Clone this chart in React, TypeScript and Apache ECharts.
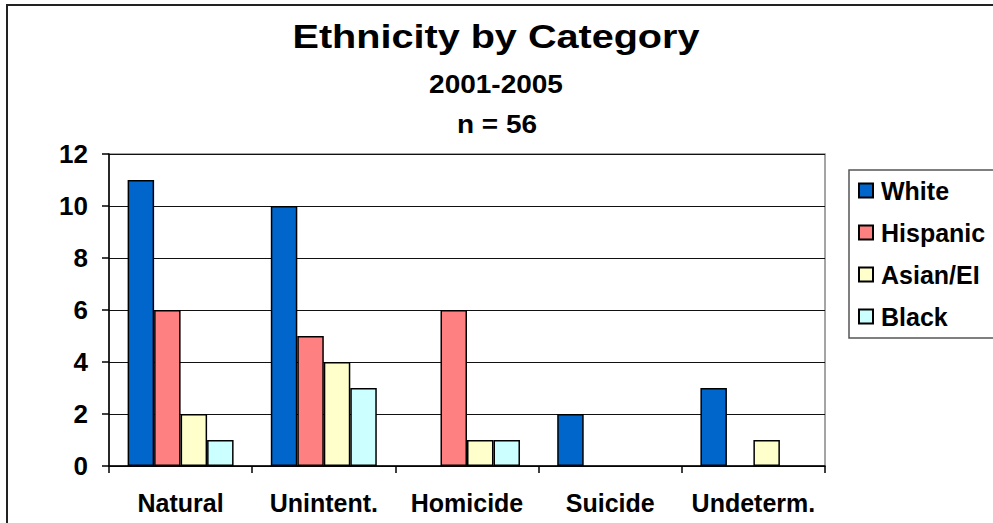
import React, { useEffect, useRef } from "react";
import * as echarts from "echarts";

const categories = ["Natural", "Unintent.", "Homicide", "Suicide", "Undeterm."];
const white = [11, 10, null, 2, 3];
const hispanic = [6, 5, 6, null, null];
const asianEI = [2, 4, 1, null, 1];
const black = [1, 3, 1, null, null];
const yTicks = { min: 0, max: 12, interval: 2 };

const titleText = "Ethnicity by Category";
const periodText = "2001-2005";
const countText = "n = 56";

const FONT = "Arial, 'Liberation Sans', Helvetica, sans-serif";

export default function App() {
  const ref = useRef<HTMLDivElement>(null);

  useEffect(() => {
    if (!ref.current) return;
    const chart = echarts.init(ref.current, null, { renderer: "svg" });

    const mkSeries = (name: string, data: (number | null)[], color: string) => ({
      name,
      type: "bar",
      data,
      barGap: "0%",
      barCategoryGap: "26%",
      itemStyle: { color, borderColor: "#000", borderWidth: 1.5 },
    });

    // headings are drawn slightly widened, like the rest of the lettering
    const heading = (text: string, x: number, y: number, size: number, widen: number) => ({
      type: "text",
      x,
      y,
      scaleX: widen,
      silent: true,
      style: {
        text,
        x: 0,
        y: 0,
        align: "center",
        verticalAlign: "middle",
        fontFamily: FONT,
        fontSize: size,
        fontWeight: "bold",
        fill: "#000",
      },
    });

    chart.setOption({
      animation: false,
      backgroundColor: "#fff",
      graphic: [
        {
          type: "rect",
          shape: { x: 7, y: 5, width: 1100, height: 700 },
          style: { fill: "none", stroke: "#222", lineWidth: 2 },
          silent: true,
        },
        {
          type: "rect",
          shape: { x: 849, y: 170, width: 300, height: 168 },
          style: { fill: "#fff", stroke: "#555", lineWidth: 1.5 },
          silent: true,
          z: 0,
        },
        heading(titleText, 496, 37, 33, 1.2),
        heading(periodText, 496, 85, 25, 1.12),
        heading(countText, 497, 125, 25, 1.12),
      ],
      legend: {
        orient: "vertical",
        left: 858,
        top: 178,
        padding: 0,
        itemWidth: 14,
        itemHeight: 14,
        itemGap: 17,
        icon: "rect",
        textStyle: {
          fontFamily: FONT,
          fontSize: 25,
          fontWeight: "bold",
          color: "#000",
          lineHeight: 25,
          padding: [0, 0, 0, 3],
        },
        z: 5,
      },
      grid: {
        left: 109,
        top: 154,
        width: 716,
        height: 312,
        show: true,
        borderColor: "#888",
        borderWidth: 1.5,
        backgroundColor: "transparent",
      },
      xAxis: {
        type: "category",
        data: categories,
        axisLine: { show: true, lineStyle: { color: "#000", width: 1.5 } },
        axisTick: { show: true, alignWithLabel: false, length: 7, lineStyle: { color: "#000", width: 1.5 } },
        axisLabel: {
          fontFamily: FONT,
          fontSize: 25,
          fontWeight: "bold",
          color: "#000",
          margin: 24,
          interval: 0,
        },
      },
      yAxis: {
        type: "value",
        min: yTicks.min,
        max: yTicks.max,
        interval: yTicks.interval,
        axisLine: { show: true, lineStyle: { color: "#000", width: 1.5 } },
        axisTick: { show: true, length: 7, lineStyle: { color: "#000", width: 1.5 } },
        splitLine: { show: true, lineStyle: { color: "#111", width: 1 } },
        axisLabel: {
          fontFamily: FONT,
          fontSize: 26,
          fontWeight: "bold",
          color: "#000",
          margin: 21,
        },
      },
      series: [
        mkSeries("White", white, "#0066CC"),
        mkSeries("Hispanic", hispanic, "#FF8080"),
        mkSeries("Asian/EI", asianEI, "#FFFFCC"),
        mkSeries("Black", black, "#CCFFFF"),
      ],
    });

    return () => chart.dispose();
  }, []);

  return (
    <div
      ref={ref}
      style={{ position: "fixed", left: 0, top: 0, width: 993, height: 523 }}
    />
  );
}
